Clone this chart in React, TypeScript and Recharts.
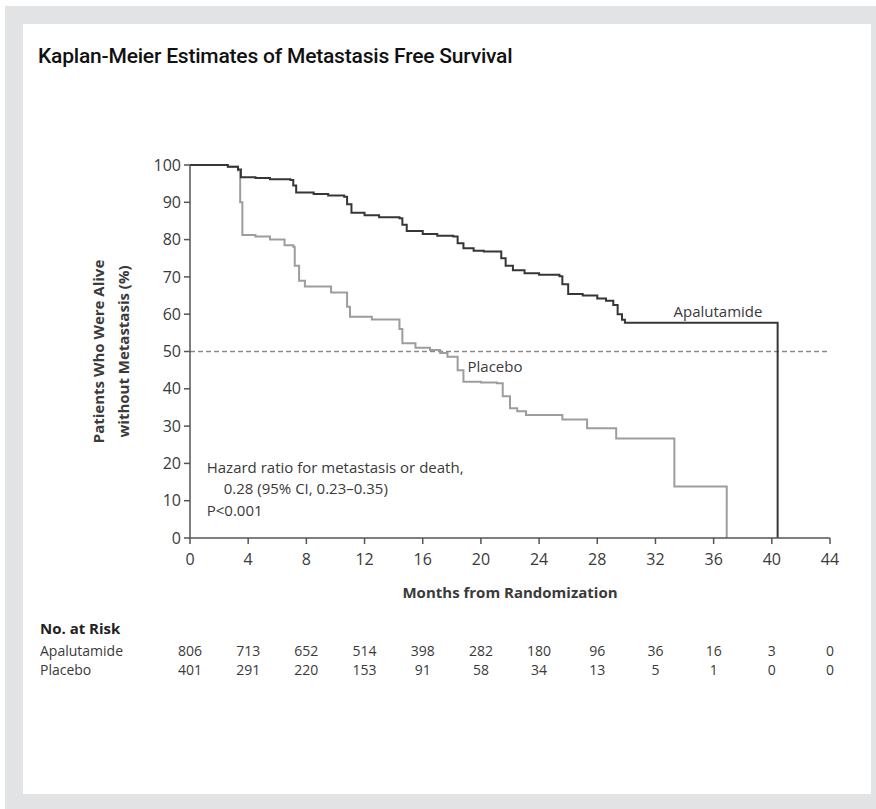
import React from 'react';
import { LineChart, Line, XAxis, YAxis, ReferenceLine, ReferenceDot } from 'recharts';

// ---- data ----
const monthTicks = [0, 4, 8, 12, 16, 20, 24, 28, 32, 36, 40, 44];
const percentTicks = [0, 10, 20, 30, 40, 50, 60, 70, 80, 90, 100];

const apalutamideMonths = [0, 2.6, 3.3, 3.5, 4.5, 5.5, 6.9, 7.1, 7.3, 8.5, 9.5, 10.6, 10.8, 11.1, 12, 13, 14.4, 14.6, 14.9, 16, 17, 18.1, 18.4, 18.8, 19.5, 20.2, 21.4, 21.7, 22.2, 23.0, 24.0, 25.4, 25.6, 26.0, 27.0, 28.0, 28.6, 29.1, 29.4, 29.7, 29.9, 40.4];
const apalutamideSurvival = [100, 99.5, 98.8, 96.7, 96.5, 96.2, 96.0, 94.5, 92.6, 92.2, 91.8, 91.5, 89.5, 87.2, 86.5, 86.0, 85.7, 84.0, 82.3, 81.5, 81.0, 80.8, 79.0, 77.7, 77.0, 76.8, 75.0, 73.0, 71.8, 71.0, 70.6, 70.2, 68.0, 65.4, 65.0, 64.2, 63.6, 62.5, 60.0, 58.5, 57.7, 0];

const placeboMonths = [0, 2.6, 3.3, 3.45, 3.6, 4.5, 5.5, 6.5, 7.1, 7.2, 7.5, 7.9, 9.7, 10.8, 11.0, 12.5, 14.4, 14.6, 15.5, 16.5, 17.2, 17.7, 18.4, 18.8, 20.0, 21.1, 21.5, 22.0, 22.5, 23.1, 25.6, 27.3, 29.3, 33.3, 36.9];
const placeboSurvival = [100, 99.5, 98.5, 90.0, 81.2, 80.8, 80.0, 78.5, 78.1, 73.0, 69.0, 67.4, 65.8, 62.0, 59.3, 58.6, 56.0, 52.2, 51.0, 50.4, 49.6, 48.6, 45.0, 41.9, 41.7, 41.5, 38.0, 34.8, 34.0, 33.0, 31.8, 29.4, 26.7, 13.8, 0];

const atRiskApalutamide = [806, 713, 652, 514, 398, 282, 180, 96, 36, 16, 3, 0];
const atRiskPlacebo = [401, 291, 220, 153, 91, 58, 34, 13, 5, 1, 0, 0];

const apalutamideData = apalutamideMonths.map((t, i) => ({ t, v: apalutamideSurvival[i] }));
const placeboData = placeboMonths.map((t, i) => ({ t, v: placeboSurvival[i] }));

// ---- styles ----
const FONT = "'Open Sans', 'Noto Sans', sans-serif";
const TEXT = '#3a3a3a';
const AXIS = '#555555';

const YTitle = (props: any) => {
  const vb = props.viewBox || { x: 80, y: 165, width: 110, height: 373 };
  const cy = vb.y + vb.height / 2;
  const x1 = vb.x + 18;
  const x2 = vb.x + 43;
  const common = { textAnchor: 'middle' as const, dominantBaseline: 'central' as const, fontFamily: FONT, fontWeight: 700, fontSize: 15, fill: TEXT };
  return (
    <g>
      <text x={x1} y={cy} transform={`rotate(-90 ${x1} ${cy})`} {...common}>Patients Who Were Alive</text>
      <text x={x2} y={cy} transform={`rotate(-90 ${x2} ${cy})`} {...common}>without Metastasis (%)</text>
    </g>
  );
};

const XTitle = (props: any) => {
  const vb = props.viewBox || { x: 190, y: 538, width: 640, height: 62 };
  return (
    <text x={vb.x + vb.width / 2} y={vb.y + 54} textAnchor="middle" dominantBaseline="central" fontFamily={FONT} fontWeight={700} fontSize={15} fill={TEXT}>
      Months from Randomization
    </text>
  );
};

// month tick label plus the "No. at Risk" table entries aligned under it
const MonthTick = (props: any) => {
  const { x, y, payload } = props;
  const idx = monthTicks.indexOf(payload.value);
  const t = { fontFamily: FONT, fontSize: 14, fill: TEXT };
  return (
    <g>
      <text x={x} y={y + 13} textAnchor="middle" fontFamily={FONT} fontSize={16} fill={TEXT}>{payload.value}</text>
      {idx === 0 && (
        <g>
          <text x={40} y={y + 82} fontFamily={FONT} fontWeight={700} fontSize={15} fill="#222">No. at Risk</text>
          <text x={40} y={y + 104} {...t}>Apalutamide</text>
          <text x={40} y={y + 123} {...t}>Placebo</text>
        </g>
      )}
      <text x={x} y={y + 104} textAnchor="middle" {...t}>{atRiskApalutamide[idx]}</text>
      <text x={x} y={y + 123} textAnchor="middle" {...t}>{atRiskPlacebo[idx]}</text>
    </g>
  );
};

const HazardLabel = (props: any) => {
  const vb = props.viewBox || { x: 207, y: 467 };
  const x = vb.x;
  const y = vb.y;
  const common = { fontFamily: FONT, fontSize: 15, fill: TEXT, dominantBaseline: 'central' as const };
  return (
    <g>
      <text x={x} y={y} {...common}>Hazard ratio for metastasis or death,</text>
      <text x={x + 17} y={y + 21} {...common}>0.28 (95% CI, 0.23–0.35)</text>
      <text x={x} y={y + 43} {...common}>P&lt;0.001</text>
    </g>
  );
};

export default function App() {
  return (
    <div style={{ position: 'absolute', left: 0, top: 0, width: 876, height: 809, background: '#ffffff', overflow: 'hidden' }}>
      <div style={{ position: 'absolute', left: 5, top: 6, width: 871, height: 803, background: '#e2e3e5' }} />
      <div style={{ position: 'absolute', left: 23, top: 24, width: 848, height: 770, background: '#ffffff' }} />
      <div style={{ position: 'absolute', left: 38, top: 43, fontFamily: "Roboto, 'Noto Sans', sans-serif", fontWeight: 500, fontSize: 21, color: '#111', whiteSpace: 'nowrap', lineHeight: '26px', letterSpacing: -0.2 }}>
        Kaplan-Meier Estimates of Metastasis Free Survival
      </div>
      <div style={{ position: 'absolute', left: 0, top: 0 }}>
        <LineChart width={876} height={809} margin={{ top: 165, right: 46, bottom: 209, left: 80 }}>
          <XAxis
            xAxisId="main"
            type="number"
            dataKey="t"
            domain={[0, 44]}
            ticks={monthTicks}
            allowDataOverflow
            height={62}
            stroke={AXIS}
            strokeWidth={1.5}
            tickSize={6}
            tickMargin={8}
            tick={<MonthTick />}
            label={<XTitle />}
          />
          <YAxis
            type="number"
            domain={[0, 100]}
            ticks={percentTicks}
            width={110}
            stroke={AXIS}
            strokeWidth={1.5}
            tickSize={6}
            tickMargin={3}
            tick={{ fontFamily: FONT, fontSize: 16, fill: TEXT }}
            label={<YTitle />}
          />
          <ReferenceLine xAxisId="main" y={50} stroke="#8a8a8a" strokeWidth={1.5} strokeDasharray="5 3" />
          <Line
            xAxisId="main"
            data={placeboData}
            dataKey="v"
            type="stepAfter"
            stroke="#9d9d9d"
            strokeWidth={2}
            dot={false}
            isAnimationActive={false}
          />
          <Line
            xAxisId="main"
            data={apalutamideData}
            dataKey="v"
            type="stepAfter"
            stroke="#363636"
            strokeWidth={2}
            dot={false}
            isAnimationActive={false}
          />
          <ReferenceDot xAxisId="main" x={36.3} y={60.6} r={0} fill="none" stroke="none"
            label={{ value: 'Apalutamide', position: 'center', fontFamily: FONT, fontSize: 15, fill: TEXT }} />
          <ReferenceDot xAxisId="main" x={20.97} y={45.8} r={0} fill="none" stroke="none"
            label={{ value: 'Placebo', position: 'center', fontFamily: FONT, fontSize: 15, fill: TEXT }} />
          <ReferenceDot xAxisId="main" x={1.15} y={19.0} r={0} fill="none" stroke="none"
            label={<HazardLabel />} />
        </LineChart>
      </div>
    </div>
  );
}
